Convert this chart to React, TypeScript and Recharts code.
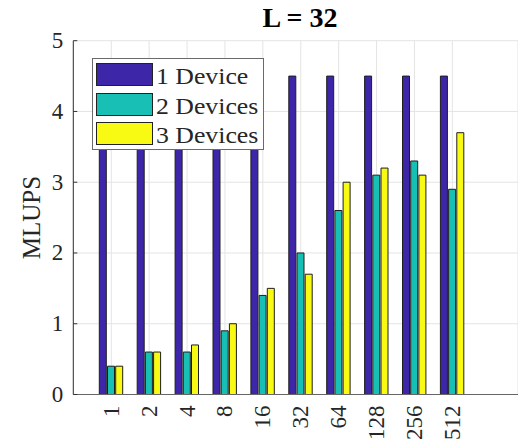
import React from 'react';
import { BarChart, Bar, XAxis, YAxis, CartesianGrid, Legend, Label } from 'recharts';

const categories = ['1', '2', '4', '8', '16', '32', '64', '128', '256', '512'];
const oneDevice = [4.5, 4.5, 4.5, 4.5, 4.5, 4.5, 4.5, 4.5, 4.5, 4.5];
const twoDevices = [0.4, 0.6, 0.6, 0.9, 1.4, 2.0, 2.6, 3.1, 3.3, 2.9];
const threeDevices = [0.4, 0.6, 0.7, 1.0, 1.5, 1.7, 3.0, 3.2, 3.1, 3.7];
const yTicks = [0, 1, 2, 3, 4, 5];

const series = [
  { key: 'd1', name: '1 Device', color: '#3e26a8', values: oneDevice },
  { key: 'd2', name: '2 Devices', color: '#17bfb4', values: twoDevices },
  { key: 'd3', name: '3 Devices', color: '#f9fa14', values: threeDevices },
];

const chartData = categories.map((n, i) => ({
  n,
  d1: oneDevice[i],
  d2: twoDevices[i],
  d3: threeDevices[i],
}));

const FONT = '"Liberation Serif", "Times New Roman", serif';
const TEXT = '#262626';

const XTick = ({ x, y, payload }: any) => (
  <text
    x={x}
    y={y + 11}
    transform={`rotate(-90, ${x}, ${y + 11})`}
    textAnchor="end"
    dominantBaseline="central"
    fontFamily={FONT}
    fontSize={23}
    fill={TEXT}
  >
    {payload.value}
  </text>
);

const YTick = ({ x, y, payload }: any) => (
  <g>
    <line x1={x + 10} x2={x + 14} y1={y} y2={y} stroke="#333" />
    <text x={x} y={y} textAnchor="end" dominantBaseline="central" fontFamily={FONT} fontSize={23} fill={TEXT}>
      {payload.value}
    </text>
  </g>
);

const LegendBox = () => (
  <div
    style={{
      boxSizing: 'border-box',
      width: 172,
      height: 92,
      border: '1px solid #6a6a6a',
      background: '#fff',
      padding: '4px 3px',
      fontFamily: FONT,
      fontSize: 23,
      color: TEXT,
    }}
  >
    {series.map((s) => (
      <div key={s.key} style={{ display: 'flex', alignItems: 'flex-start', height: 29.7 }}>
        <div
          style={{
            boxSizing: 'border-box',
            width: 57,
            height: 23,
            background: s.color,
            border: '1px solid #222',
            flex: 'none',
          }}
        />
        <span
          style={{
            marginLeft: 3,
            lineHeight: '23px',
            position: 'relative',
            top: 2,
            display: 'inline-block',
            transform: 'scaleX(1.12)',
            transformOrigin: 'left center',
            whiteSpace: 'nowrap',
          }}
        >
          {s.name}
        </span>
      </div>
    ))}
  </div>
);

export default function App() {
  return (
    <div style={{ position: 'absolute', left: 0, top: 0, width: 518, height: 446, background: '#fff', overflow: 'hidden' }}>
      <div
        style={{
          position: 'absolute',
          left: 200,
          top: 4,
          width: 200,
          textAlign: 'center',
          fontFamily: FONT,
          fontWeight: 'bold',
          fontSize: 28,
          lineHeight: '28px',
          color: '#000',
          zIndex: 2,
        }}
      >
        L = 32
      </div>
      <BarChart
        width={518}
        height={446}
        data={chartData}
        margin={{ top: 40.7, right: 0, bottom: 0, left: 0 }}
        barSize={7}
        barGap={1.2}
      >
        <CartesianGrid stroke="#e4e4e4" vertical horizontal />
        <XAxis
          dataKey="n"
          height={51.5}
          padding={{ left: 19, right: 46.7 }}
          tickLine={false}
          tickSize={0}
          tickMargin={0}
          axisLine={{ stroke: '#666' }}
          tick={<XTick />}
          interval={0}
        />
        <XAxis
          xAxisId="top"
          dataKey="n"
          orientation="top"
          height={0}
          padding={{ left: 19, right: 46.7 }}
          mirror
          tick={false}
          tickSize={4}
          tickLine={{ stroke: '#333' }}
          axisLine={{ stroke: '#333' }}
          interval={0}
        />
        <YAxis
          width={73.3}
          domain={[0, 5]}
          ticks={yTicks}
          interval={0}
          tickLine={false}
          tickSize={0}
          tickMargin={10}
          axisLine={{ stroke: '#333' }}
          tick={<YTick />}
        >
          <Label
            content={({ viewBox }: any) => (
              <text
                x={viewBox.x + 32}
                y={viewBox.y + viewBox.height / 2}
                transform={`rotate(-90, ${viewBox.x + 32}, ${viewBox.y + viewBox.height / 2})`}
                textAnchor="middle"
                dominantBaseline="central"
                fontFamily={FONT}
                fontSize={25}
                fill={TEXT}
              >
                MLUPS
              </text>
            )}
          />
        </YAxis>
        <Legend
          layout="vertical"
          align="center"
          verticalAlign="middle"
          content={<LegendBox />}
          wrapperStyle={{ left: 92, top: 58, width: 172, height: 92 }}
        />
        {series.map((s) => (
          <Bar
            key={s.key}
            dataKey={s.key}
            name={s.name}
            fill={s.color}
            stroke="#1e1e1e"
            strokeWidth={1}
            isAnimationActive={false}
          />
        ))}
      </BarChart>
    </div>
  );
}
